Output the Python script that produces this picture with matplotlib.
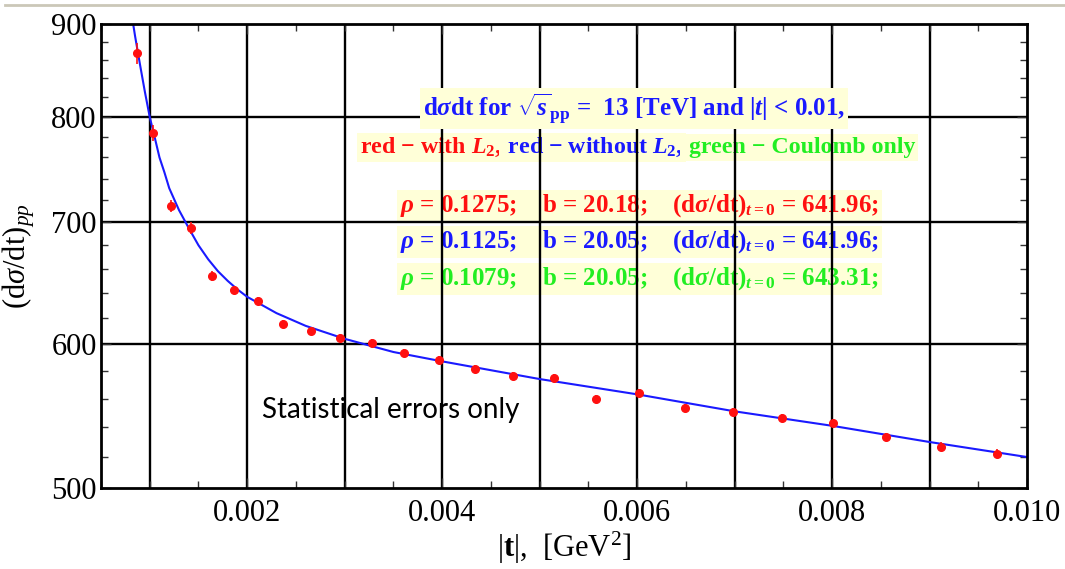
import matplotlib
matplotlib.use("Agg")
import matplotlib.pyplot as plt
from matplotlib.lines import Line2D
from matplotlib.ticker import FixedLocator, NullFormatter, StrMethodFormatter

plt.rcParams['font.family'] = ['Liberation Serif', 'DejaVu Serif']
plt.rcParams['mathtext.fontset'] = 'custom'
plt.rcParams['mathtext.rm'] = 'Liberation Serif'
plt.rcParams['mathtext.it'] = 'Liberation Serif:italic'
plt.rcParams['mathtext.bf'] = 'Liberation Serif:bold'
plt.rcParams['mathtext.bfit'] = 'Liberation Serif:bold:italic'

# measured points (|t| in GeV^2, dsigma/dt)
t_data = [0.00087, 0.001034, 0.001222, 0.00142, 0.00164, 0.001862, 0.00211,
          0.002364, 0.002651, 0.002949, 0.003277, 0.003605, 0.003964, 0.004333,
          0.004723, 0.005147, 0.005577, 0.006023, 0.006494, 0.006985, 0.007482,
          0.008007, 0.008553, 0.00912, 0.009697]
dsdt_data = [867, 784, 715, 695, 654, 642.6, 633.6, 615.5, 610, 604.6, 600.8,
             593.3, 588, 581.4, 576.2, 574.8, 559.6, 564, 553.3, 550.5, 546.3,
             542.9, 533.4, 526.7, 522.1]
dsdt_err = [12, 8, 5.5, 5.5, 4, 3.5, 3.5, 3, 3, 3, 3, 3, 3, 3, 3, 3, 3, 3, 3,
            3, 3, 3, 3, 3, 3]

# blue curve
t_fit = [0.00083, 0.00085, 0.0009, 0.00095, 0.001, 0.00105, 0.0011, 0.00115,
         0.0012, 0.0013, 0.0014, 0.0015, 0.0016, 0.0017, 0.0018, 0.0019,
         0.002, 0.0023, 0.0026, 0.003, 0.0035, 0.004, 0.005, 0.006, 0.007,
         0.008, 0.009, 0.010]
dsdt_fit = [900, 886, 855, 826, 800, 780, 760, 746, 731, 711, 695, 680, 668,
            658, 650, 643, 637, 624, 614, 604, 594, 587, 574, 563, 551, 541,
            530, 520]

x_ticks = [0.002, 0.004, 0.006, 0.008, 0.010]
y_ticks = [500, 600, 700, 800, 900]

fig = plt.figure(figsize=(10.65, 5.69), dpi=100)
ax = fig.add_axes([101/1065, 1-488/569, (1027-101)/1065, (488-24)/569])
ax.set_yscale('log')
ax.set_xlim(0.0005, 0.010)
ax.set_ylim(500, 900)

# grid
for gx in [0.001, 0.002, 0.003, 0.004, 0.005, 0.006, 0.007, 0.008, 0.009]:
    ax.axvline(gx, color='black', lw=1.7, zorder=1.5)
for gy in [600, 700, 800]:
    ax.axhline(gy, color='black', lw=1.7, zorder=1.5)

ax.plot(t_fit, dsdt_fit, color='#1a1aff', lw=1.5, zorder=2)
ax.errorbar(t_data, dsdt_data, yerr=dsdt_err, fmt='o', color='#ff1010',
            ms=5.5, elinewidth=1.2, capsize=0, zorder=2.5)

ax.xaxis.set_major_locator(FixedLocator(x_ticks))
ax.xaxis.set_major_formatter(StrMethodFormatter('{x:.3f}'))
ax.xaxis.set_minor_locator(FixedLocator([0.0005 * i for i in range(1, 21)]))
ax.yaxis.set_major_locator(FixedLocator(y_ticks))
ax.yaxis.set_major_formatter(StrMethodFormatter('{x:.0f}'))
ax.yaxis.set_minor_locator(FixedLocator(list(range(520, 900, 20))))
ax.yaxis.set_minor_formatter(NullFormatter())
ax.tick_params(which='both', direction='in', top=True, right=True,
               labelsize=22, color='#333333')
ax.tick_params(which='major', length=7, width=1)
ax.tick_params(which='minor', length=5, width=1)
ax.tick_params(axis='x', pad=8)
ax.tick_params(axis='y', pad=3)
for s in ax.spines.values():
    s.set_linewidth(2)

ax.set_xlabel(r'|$\mathbf{t}$|,  [GeV$^2$]', fontsize=22, labelpad=1)
ax.set_ylabel(r'(d$\sigma$/dt)$_{pp}$', fontsize=22, labelpad=10)

bg = dict(facecolor='#ffffd8', edgecolor='none', boxstyle='square,pad=0.12')
renderer = fig.canvas.get_renderer()


def put_line(x, y, parts, z, size=18):
    # parts drawn one after another, x,y in pixels of the figure
    xf = x / 1065
    for s, c in parts:
        t = ax.text(xf, 1 - y / 569, s, color=c, transform=fig.transFigure,
                    fontsize=size, fontweight='bold', va='baseline', ha='left',
                    bbox=bg, zorder=z)
        bb = t.get_window_extent(renderer)
        xf += bb.width / fig.bbox.width


put_line(423, 116, [(r'd$\mathbfit{\sigma}$dt for $\sqrt{\mathbfit{s}}_{\mathbf{pp}}$ =  13 [TeV] and |$\mathbfit{t}$| < 0.01,', '#1a1aff')], 3)
put_line(360, 153, [(r'red − with $\mathbfit{L}_{\mathbf{2}}$,', '#ff1010'),
                    (r' red − without $\mathbfit{L}_{\mathbf{2}}$,', '#1a1aff'),
                    (' green − Coulomb only', '#22ee22')], 1, size=17.2)
put_line(400, 212, [(r'$\mathbfit{\rho}$ = 0.1275;    b = 20.18;    (d$\mathbfit{\sigma}$/dt)$_{\mathbfit{t}\mathbf{=0}}$ = 641.96;', '#ff1010')], 1)
put_line(400, 248, [(r'$\mathbfit{\rho}$ = 0.1125;    b = 20.05;    (d$\mathbfit{\sigma}$/dt)$_{\mathbfit{t}\mathbf{=0}}$ = 641.96;', '#1a1aff')], 1)
put_line(400, 285, [(r'$\mathbfit{\rho}$ = 0.1079;    b = 20.05;    (d$\mathbfit{\sigma}$/dt)$_{\mathbfit{t}\mathbf{=0}}$ = 643.31;', '#22ee22')], 1)

ax.text(262 / 1065, 1 - 418 / 569, 'Statistical errors only', family='Lato',
        fontsize=20, color='black', transform=fig.transFigure, va='baseline')

fig.add_artist(Line2D([5 / 1065, 1.0], [1 - 5 / 569, 1 - 5 / 569],
                      color='#cbc7b8', lw=2, transform=fig.transFigure))

fig.savefig('out.png', dpi=100)
